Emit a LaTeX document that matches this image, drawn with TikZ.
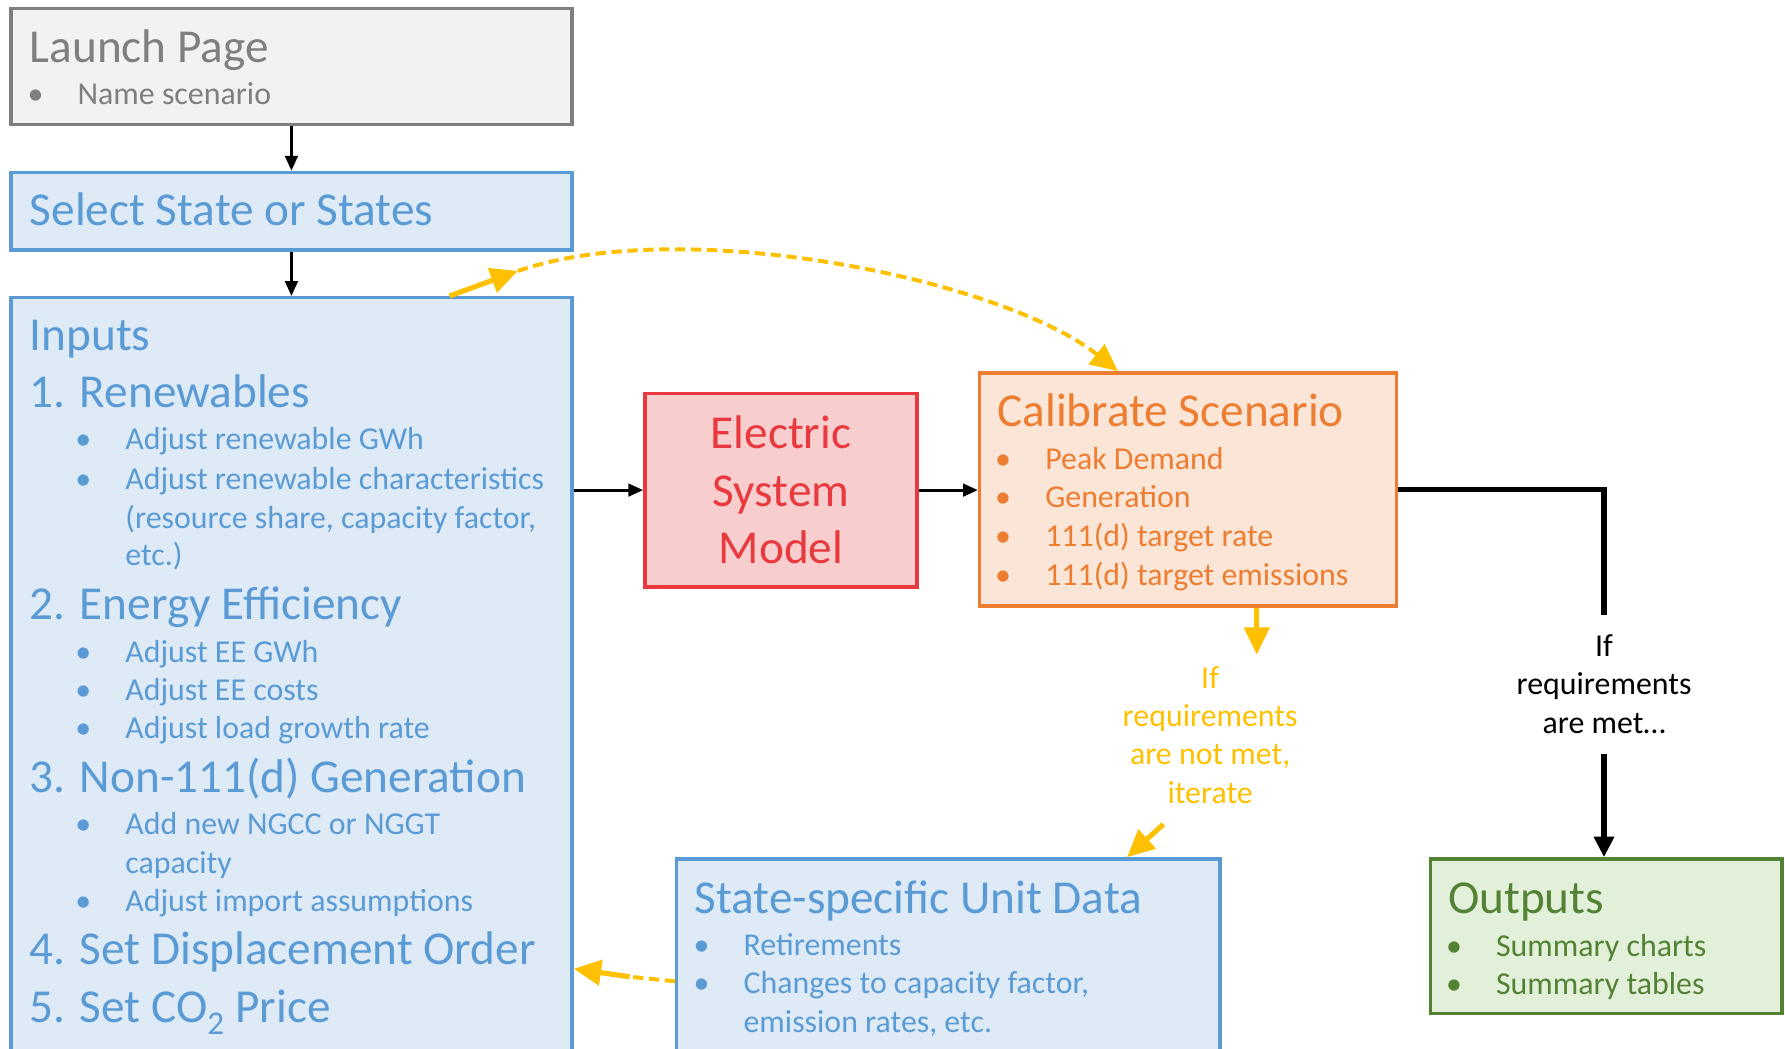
\documentclass[tikz,border=0pt]{standalone}
\usepackage{fontspec}
\setmainfont{Carlito}
\usetikzlibrary{arrows.meta,calc}

\definecolor{grayline}{HTML}{7F7F7F}
\definecolor{grayfill}{HTML}{F2F2F2}
\definecolor{blueline}{HTML}{5B9BD5}
\definecolor{bluefill}{HTML}{DEEBF7}
\definecolor{redline}{HTML}{E8393F}
\definecolor{redfill}{HTML}{F8CDCD}
\definecolor{orangeline}{HTML}{ED7D31}
\definecolor{orangefill}{HTML}{FBE5D6}
\definecolor{greenline}{HTML}{548235}
\definecolor{greenfill}{HTML}{E2F0D9}
\definecolor{ylw}{HTML}{FFC000}

\newcommand{\bigtxt}{\fontsize{41.5}{50.5}\selectfont}
\newcommand{\smalltxt}{\fontsize{28}{33.7}\selectfont}
\newcommand{\itm}[1]{\makebox[44pt][l]{\textbullet}#1}

\begin{document}
\begin{tikzpicture}[x=1pt, y=-1pt,
    box/.style={draw, line width=3pt, anchor=north west, inner sep=0pt},
    head/.style={anchor=west, inner sep=0pt, text height=26.5pt, text depth=0pt, font=\bigtxt},
    item/.style={anchor=west, inner sep=0pt, text height=18pt, text depth=0pt, font=\smalltxt},
    blk/.style={-{Triangle[length=13pt,width=11pt]}, line width=2.5pt},
    yarr/.style={-{Triangle[length=24pt,width=22pt]}, ylw, line width=4.5pt},
    ydash/.style={ylw, line width=3.5pt, dash pattern=on 9pt off 5pt}]
  \useasboundingbox (0,0) rectangle (1568,921);

  % boxes
  \node[box, draw=grayline, fill=grayfill, minimum width=493pt, minimum height=102pt] (launch) at (8,6) {};
  \node[box, draw=blueline, fill=bluefill, minimum width=493pt, minimum height=68pt] (select) at (8,150) {};
  \node[box, draw=blueline, fill=bluefill, minimum width=493pt, minimum height=700pt] (inputs) at (8,260) {};
  \node[box, draw=redline, fill=redfill, text=redline, minimum width=239pt, minimum height=170pt,
        align=center, font=\bigtxt] (esm) at (565,344) {Electric\\System\\Model};
  \node[box, draw=orangeline, fill=orangefill, minimum width=366pt, minimum height=205pt] (calib) at (859,326) {};
  \node[box, draw=blueline, fill=bluefill, minimum width=477pt, minimum height=220pt] (unitdata) at (593,753) {};
  \node[box, draw=greenline, fill=greenfill, minimum width=309pt, minimum height=136pt] (outputs) at (1255,753) {};

  % launch page
  \node[head, text=grayline] (launchT) at (26,42) {Launch Page};
  \node[item, text=grayline] (launch1) at (24,83) {\itm{Name scenario}};

  % select
  \node[head, text=blueline] (selectT) at (26,185) {Select State or States};

  % inputs
  \node[head, text=blueline] (inputsT) at (26,295) {Inputs};
  \node[head, text=blueline] (in1) at (26,345) {1. Renewables};
  \node[item, text=blueline] (in1a) at (66,386) {\itm{Adjust renewable GWh}};
  \node[item, text=blueline] (in1b) at (66,421) {\itm{Adjust renewable characteristics}};
  \node[item, text=blueline] (in1c) at (110,455) {(resource share, capacity factor,};
  \node[item, text=blueline] (in1d) at (110,488) {etc.)};
  \node[head, text=blueline] (in2) at (26,531) {2. Energy Efficiency};
  \node[item, text=blueline] (in2a) at (66,573) {\itm{Adjust EE GWh}};
  \node[item, text=blueline] (in2b) at (66,606) {\itm{Adjust EE costs}};
  \node[item, text=blueline] (in2c) at (66,640) {\itm{Adjust load growth rate}};
  \node[head, text=blueline] (in3) at (26,683) {3. Non-111(d) Generation};
  \node[item, text=blueline] (in3a) at (66,724) {\itm{Add new NGCC or NGGT}};
  \node[item, text=blueline] (in3b) at (110,758) {capacity};
  \node[item, text=blueline] (in3c) at (66,792) {\itm{Adjust import assumptions}};
  \node[head, text=blueline] (in4) at (26,834) {4. Set Displacement Order};
  \node[head, text=blueline] (in5) at (26,885) {5. Set CO\textsubscript{2} Price};

  % calibrate
  \node[head, text=orangeline] (calibT) at (876,361) {Calibrate Scenario};
  \node[item, text=orangeline] (calib1) at (874,403) {\itm{Peak Demand}};
  \node[item, text=orangeline] (calib2) at (874,437) {\itm{Generation}};
  \node[item, text=orangeline] (calib3) at (874,471) {\itm{111(d) target rate}};
  \node[item, text=orangeline] (calib4) at (874,505) {\itm{111(d) target emissions}};

  % unit data
  \node[head, text=blueline] (unitT) at (610,789) {State-specific Unit Data};
  \node[item, text=blueline] (unit1) at (609,830) {\itm{Retirements}};
  \node[item, text=blueline] (unit2) at (609,864) {\itm{Changes to capacity factor,}};
  \node[item, text=blueline] (unit3) at (653,898) {emission rates, etc.};

  % outputs
  \node[head, text=greenline] (outT) at (1272,789) {Outputs};
  \node[item, text=greenline] (out1) at (1270,831) {\itm{Summary charts}};
  \node[item, text=greenline] (out2) at (1270,865) {\itm{Summary tables}};

  % labels
  \node[align=center, font=\smalltxt, text=ylw, inner sep=0pt] (notmet) at (1063,645.5)
    {If\\requirements\\are not met,\\iterate};
  \node[align=center, font=\smalltxt, inner sep=0pt, minimum height=122pt] (met) at (1409,601)
    {If\\requirements\\are met…};

  \coordinate (nmtop) at (1104,575);
  \coordinate (nmbot) at (1022,724);
  \coordinate (cstub) at (455,238);
  \coordinate (udmid) at (553,858);

  % flow
  \draw[blk] (launch.south) -- (select.north);
  \draw[blk] (select.south) -- (inputs.north);
  \draw[blk] (inputs.east |- esm.west) -- (esm.west);
  \draw[blk] (esm.east) -- (esm.east -| calib.west);
  \draw[line width=4.5pt] (calib.east) -| (met.north);
  \draw[-{Triangle[length=18pt,width=17pt]}, line width=4.5pt] (met.south) -- (met.south |- outputs.north);

  % iteration
  \draw[yarr] (calib.south -| nmtop) -- (nmtop);
  \draw[yarr] (nmbot) -- ($(unitdata.north west)+(397,0)$);
  \draw[ydash] (unitdata.north west |- udmid) ++(0,4) -- (udmid);
  \draw[yarr] (udmid) -- ($(inputs.north east)+(0,591)$);
  \draw[yarr] ($(inputs.north west)+(387,0)$) -- (cstub);
  \draw[ydash, -{Triangle[length=24pt,width=22pt]}] (cstub) .. controls (600,188) and (880,245) .. ($(calib.north west)+(123,0)$);
\end{tikzpicture}
\end{document}
